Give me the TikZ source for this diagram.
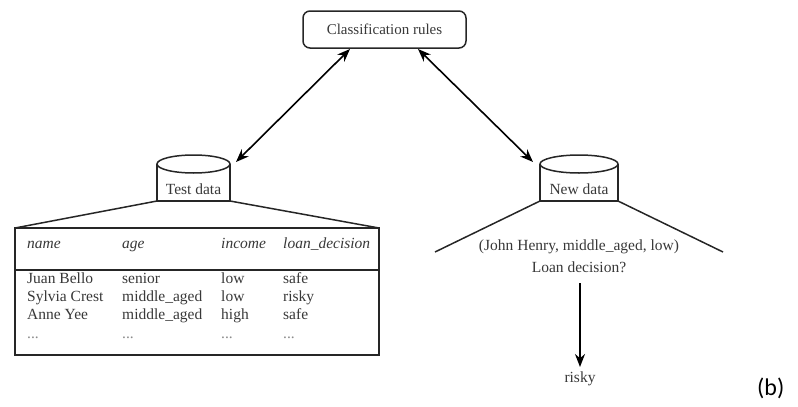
\documentclass[tikz,border=0pt]{standalone}
\usepackage{fontspec}
\setmainfont{Liberation Serif}
\newfontfamily\labfont{Carlito}
\usetikzlibrary{arrows.meta}
\begin{document}
\begin{tikzpicture}[x=1pt,y=-1pt,
  ln/.style={line width=1.5pt, draw=black!85},
  dbl/.style={line width=1.6pt, draw=black, {Stealth[length=13pt,width=10pt]}-{Stealth[length=13pt,width=10pt]}},
  one/.style={line width=1.6pt, draw=black, -{Stealth[length=13pt,width=10pt]}},
  txt/.style={font=\fontsize{15.5}{18}\selectfont, text=black!78, inner sep=0pt},
  hd/.style={txt, font=\fontsize{15.5}{18}\selectfont\itshape, anchor=base west},
  cell/.style={txt, anchor=base west},
  dotc/.style={txt, anchor=base west, text=black!45}]
\useasboundingbox (0,0) rectangle (798,407);
% classification rules
\node[ln, draw, rounded corners=7pt, minimum width=163pt, minimum height=37pt, txt, font=\fontsize{15}{17}\selectfont] (rules) at (384.5,29.5) {Classification rules};
% cylinders
\draw[ln] (157,164) -- (157,201) -- (230,201) -- (230,164);
\draw[ln] (193.5,164) ellipse [x radius=36.5, y radius=9];
\node[txt] (test) at (193.5,189) {Test data};
\draw[ln] (540,164) -- (540,201) -- (618,201) -- (618,164);
\draw[ln] (579,164) ellipse [x radius=39, y radius=9];
\node[txt] (new) at (579,189) {New data};
\coordinate (r1) at (350,49);
\coordinate (r2) at (418,49);
\coordinate (t1) at (236,162);
\coordinate (n1) at (533,162);
\draw[dbl] (r1) -- (t1);
\draw[dbl] (r2) -- (n1);
% fans
\coordinate (tl) at (157,201); \coordinate (tr) at (230,201);
\coordinate (nl) at (540,201); \coordinate (nr) at (618,201);
\coordinate (tbl) at (15,228); \coordinate (tbr) at (379,228);
\coordinate (nbl) at (435,252); \coordinate (nbr) at (723,252);
\draw[ln] (tl) -- (tbl);
\draw[ln] (tr) -- (tbr);
\draw[ln] (nl) -- (nbl);
\draw[ln] (nr) -- (nbr);
% table
\draw[ln, line width=1.7pt] (15,228) rectangle (379,355);
\draw[ln, line width=1.7pt] (15,270) -- (379,270);
\node[hd] (h1) at (27,248) {name};
\node[hd] (h2) at (122,248) {age};
\node[hd] (h3) at (221,248) {income};
\node[hd] (h4) at (283,248) {loan\_decision};
\node[cell] (a1) at (27,283) {Juan Bello};
\node[cell] (a2) at (122,283) {senior};
\node[cell] (a3) at (221,283) {low};
\node[cell] (a4) at (283,283) {safe};
\node[cell] (b1) at (27,301) {Sylvia Crest};
\node[cell] (b2) at (122,301) {middle\_aged};
\node[cell] (b3) at (221,301) {low};
\node[cell] (b4) at (283,301) {risky};
\node[cell] (c1) at (27,319) {Anne Yee};
\node[cell] (c2) at (122,319) {middle\_aged};
\node[cell] (c3) at (221,319) {high};
\node[cell] (c4) at (283,319) {safe};
\node[dotc] (d1) at (27,338) {...};
\node[dotc] (d2) at (122,338) {...};
\node[dotc] (d3) at (221,338) {...};
\node[dotc] (d4) at (283,338) {...};
% new data query
\node[txt, anchor=base] (q1) at (579,250) {(John Henry, middle\_aged, low)};
\node[txt, anchor=base] (q2) at (579,272) {Loan decision?};
\coordinate (q3) at (580,283);
\node[txt, anchor=base] (res) at (580,382) {risky};
\coordinate (res0) at (580,367);
\draw[one] (q3) -- (res0);
\node[anchor=base west, inner sep=0pt, font=\labfont\fontsize{24}{28}\selectfont] (lab) at (757,395) {(b)};
\end{tikzpicture}
\end{document}
